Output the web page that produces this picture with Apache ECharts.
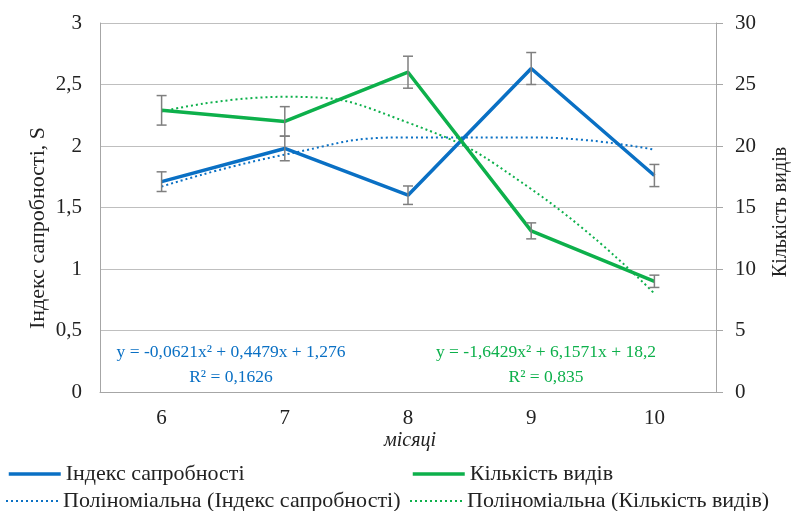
<!DOCTYPE html>
<html><head><meta charset="utf-8">
<script src="https://cdn.jsdelivr.net/npm/echarts@6/dist/echarts.min.js"></script>
<style>html,body{margin:0;padding:0;background:#fff}#c{width:793px;height:511px}</style>
</head><body><div id="c"></div>
<script>
const months = ['6', '7', '8', '9', '10'];
const saprobity = [1.71, 1.98, 1.60, 2.63, 1.76];
const saprobityErr = [0.08, 0.10, 0.075, 0.13, 0.09];
const species = [22.9, 22.0, 26.0, 13.1, 9.0];
const speciesErr = [1.2, 1.2, 1.3, 0.65, 0.5];
const saprobityTrend = [1.67, 1.93, 2.07, 2.07, 1.97];
const speciesTrend = [22.8, 24.0, 21.9, 16.5, 8.0];
const eqBlue = ['y = -0,0621x² + 0,4479x + 1,276', 'R² = 0,1626'];
const eqGreen = ['y = -1,6429x² + 6,1571x + 18,2', 'R² = 0,835'];
const names = ['Індекс сапробності', 'Поліноміальна (Індекс сапробності)', 'Кількість видів', 'Поліноміальна (Кількість видів)'];

const BLUE = '#0a70c4', GREEN = '#0db04b', GREY = '#7f7f7f';
const FONT = '"Liberation Serif", "Times New Roman", serif';

function errData(vals, errs) { return vals.map((v, i) => [i, v - errs[i], v + errs[i]]); }
function errRender(params, api) {
  const lo = api.coord([api.value(0), api.value(1)]);
  const hi = api.coord([api.value(0), api.value(2)]);
  const w = 5;
  const st = { stroke: GREY, lineWidth: 1.5 };
  return { type: 'group', children: [
    { type: 'line', shape: { x1: lo[0], y1: lo[1], x2: hi[0], y2: hi[1] }, style: st },
    { type: 'line', shape: { x1: lo[0] - w, y1: lo[1], x2: lo[0] + w, y2: lo[1] }, style: st },
    { type: 'line', shape: { x1: hi[0] - w, y1: hi[1], x2: hi[0] + w, y2: hi[1] }, style: st }
  ]};
}
const chart = echarts.init(document.getElementById('c'), null, { renderer: 'canvas' });
const labelStyle = { fontFamily: FONT, fontSize: 21, color: '#222' };
function leg(name, left, top, w) {
  return { left: left, top: top, itemWidth: 52, itemHeight: 4, itemGap: 0,
    lineStyle: { width: w }, itemStyle: { opacity: 0 },
    textStyle: { fontFamily: FONT, fontSize: 22, color: '#222' }, data: [name] };
}
function txt(s, x, y, font, fill, rot) {
  return { type: 'text', position: [x, y], rotation: rot || 0,
    style: { text: s, font: font, fill: fill, align: 'center', verticalAlign: 'middle' } };
}
chart.setOption({
  animation: false,
  backgroundColor: '#fff',
  grid: { left: 100, right: 77, top: 23, bottom: 119 },
  xAxis: {
    type: 'category', data: months, boundaryGap: true,
    axisLine: { lineStyle: { color: '#a6a6a6', width: 1 } },
    axisTick: { show: false },
    axisLabel: Object.assign({ margin: 16 }, labelStyle)
  },
  yAxis: [{
    type: 'value', min: 0, max: 3, interval: 0.5, position: 'left',
    axisLine: { show: true, lineStyle: { color: '#a6a6a6', width: 1 } },
    axisTick: { show: false },
    splitLine: { lineStyle: { color: '#bfbfbf', width: 1 } },
    axisLabel: Object.assign({ margin: 18, formatter: v => String(v).replace('.', ',') }, labelStyle)
  }, {
    type: 'value', min: 0, max: 30, interval: 5, position: 'right',
    axisLine: { show: true, lineStyle: { color: '#a6a6a6', width: 1 } },
    axisTick: { show: true, length: 7, inside: false, lineStyle: { color: '#a6a6a6' } },
    splitLine: { show: false },
    axisLabel: Object.assign({ margin: 19 }, labelStyle)
  }],
  legend: [leg(names[0], 2, 458, 3.5), leg(names[1], 0, 485, 2), leg(names[2], 406, 458, 3.5), leg(names[3], 404, 485, 2)],
  graphic: [
    txt('Індекс сапробності, S', 38, 228, '22px ' + FONT, '#222', Math.PI / 2),
    txt('Кількість видів', 781, 212, '20px ' + FONT, '#222', Math.PI / 2),
    txt('місяці', 410, 441, 'italic 20px ' + FONT, '#222'),
    txt(eqBlue[0], 231, 352, '17.5px ' + FONT, BLUE),
    txt(eqBlue[1], 231, 377, '17.5px ' + FONT, BLUE),
    txt(eqGreen[0], 546, 352, '17.5px ' + FONT, GREEN),
    txt(eqGreen[1], 546, 377, '17.5px ' + FONT, GREEN)
  ],
  series: [
    { name: names[1], type: 'line', data: saprobityTrend, smooth: 0.5,
      symbol: 'none', color: BLUE, lineStyle: { color: BLUE, width: 2, type: [2, 3] }, z: 2 },
    { name: names[3], type: 'line', yAxisIndex: 1, data: speciesTrend, smooth: 0.5,
      symbol: 'none', color: GREEN, lineStyle: { color: GREEN, width: 2, type: [2, 3] }, z: 2 },
    { name: names[0], type: 'line', data: saprobity, symbol: 'none', color: BLUE,
      lineStyle: { color: BLUE, width: 3.5 }, z: 3 },
    { name: names[2], type: 'line', yAxisIndex: 1, data: species, symbol: 'none', color: GREEN,
      lineStyle: { color: GREEN, width: 3.5 }, z: 3 },
    { name: 'errS', type: 'custom', data: errData(saprobity, saprobityErr), renderItem: errRender, z: 4 },
    { name: 'errK', type: 'custom', yAxisIndex: 1, data: errData(species, speciesErr), renderItem: errRender, z: 4 }
  ]
});
</script></body></html>
